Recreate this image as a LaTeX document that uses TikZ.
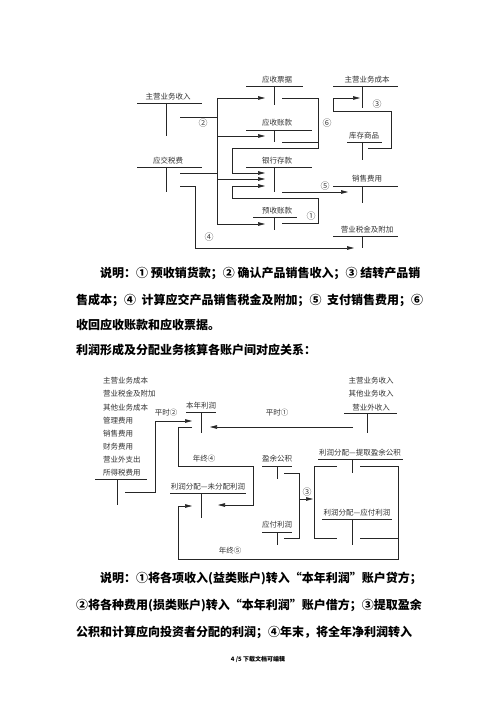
\documentclass[tikz,border=0pt]{standalone}
\usepackage{fontspec}
\newfontfamily\cjk{Noto Sans CJK SC}
\usetikzlibrary{arrows.meta}

\begin{document}
\begin{tikzpicture}[x=1pt, y=-1pt,
  acct/.style={font=\cjk\fontsize{7.5}{8}\selectfont, text=black!80, inner sep=0pt},
  num/.style={font=\cjk\fontsize{9}{9}\selectfont, text=black!75, inner sep=0pt},
  tline/.style={line width=0.6pt, black!85},
  arr/.style={-{Triangle[length=7pt,width=3.6pt]}, line width=0.6pt, black!85},
  note/.style={font=\cjk\bfseries\fontsize{12}{14}\selectfont, anchor=west, inner sep=0pt},
]
  \useasboundingbox (0,0) rectangle (500,708);

  % first picture: sales
  \node[acct] (zysr) at (168,97) {主营业务收入};
  \draw[tline] (137,103) -- (202,103) (166,103) -- (166,136);
  \node[acct] (yjsf) at (168,161) {应交税费};
  \draw[tline] (137,167) -- (202,167) (166,167) -- (166,192);
  \node[acct] (yspj) at (277,80) {应收票据};
  \draw[tline] (246,86) -- (303,86) (274,86) -- (274,105);
  \node[acct] (yszk) at (277,123) {应收账款};
  \draw[tline] (246,130) -- (312,130) (274,130) -- (274,142);
  \node[acct] (yhck) at (277,161) {银行存款};
  \draw[tline] (246,167) -- (312,167) (274,167) -- (274,192);
  \node[acct] (yszk2) at (277,211) {预收账款};
  \draw[tline] (253,217) -- (297,217) (274,217) -- (274,230);
  \node[acct] (zycb) at (367,80) {主营业务成本};
  \draw[tline] (333,86) -- (398,86) (362,86) -- (362,108);
  \node[acct] (kcsp) at (364,136) {库存商品};
  \draw[tline] (347,142) -- (382,142) (362,142) -- (362,160);
  \node[acct] (xsfy) at (367,179) {销售费用};
  \draw[tline] (333,186) -- (398,186) (362,186) -- (362,203);
  \node[acct] (yysj) at (367,230) {营业税金及附加};
  \draw[tline] (333,236) -- (398,236) (362,236) -- (362,248);

  % (2)
  \draw[tline] (180,117) -- (217,117) (217,98) -- (217,224);
  \draw[tline] (180,173) -- (217,173);
  \draw[arr] (217,98) -- (265,98);
  \draw[arr] (217,136) -- (265,136);
  \draw[arr] (217,179) -- (265,179);
  \draw[arr] (217,224) -- (265,224);
  \node[num] (n2) at (203,123) {②};
  % (6)
  \draw[tline] (282,142) -- (318,142);
  \draw[arr] (282,98) -- (318,98) -- (318,148) -- (232,148) -- (232,173) -- (265,173);
  \node[num] (n6) at (327,123) {⑥};
  % (1)
  \draw[arr] (282,223) -- (318,223) -- (318,198) -- (232,198) -- (232,186) -- (265,186);
  \node[num] (n1) at (311,216) {①};
  % (5)
  \draw[arr] (282,192) -- (348,192);
  \node[num] (n5) at (325,186) {⑤};
  % (4)
  \draw[arr] (180,186) -- (195,186) -- (195,248) -- (354,248);
  \node[num] (n4) at (209,237) {④};
  % (3)
  \draw[arr] (368,148) -- (391,148) -- (391,111) -- (333,111) -- (333,98) -- (360,98);
  \node[num] (n3) at (377,104) {③};

  \node[note] (t1) at (100,273) {说明：① 预收销货款；② 确认产品销售收入；③ 结转产品销};
  \node[note] (t2) at (76,300) {售成本；④ \ 计算应交产品销售税金及附加；⑤ \ 支付销售费用；⑥};
  \node[note] (t3) at (76,325) {收回应收账款和应收票据。};
  \node[note] (t4) at (76,350) {利润形成及分配业务核算各账户间对应关系：};

  % second picture: profit
  \foreach \txt [count=\i] in {主营业务成本, 营业税金及附加, 其他业务成本, 管理费用,
      销售费用, 财务费用, 营业外支出, 所得税费用}
    \node[acct, anchor=west] (fy\i) at (103, 381+13.1*\i-13.1) {\txt};
  \draw[tline] (95,479) -- (147,479) (117,479) -- (117,505);
  \foreach \txt [count=\i] in {主营业务收入, 其他业务收入, 营业外收入}
    \node[acct] (sr\i) at (371, 381+13.1*\i-13.1) {\txt};
  \draw[tline] (344,413) -- (397,413) (367,413) -- (367,433);

  \node[acct] (bnlr) at (201,406) {本年利润};
  \draw[tline] (186,412) -- (216,412) (201,412) -- (201,433);
  \node[acct] (wfp) at (208,487) {利润分配—未分配利润};
  \draw[tline] (170,493) -- (246,493) (201,493) -- (201,518);
  \node[acct] (yygj) at (277,459) {盈余公积};
  \draw[tline] (262,466) -- (292,466) (277,466) -- (277,479);
  \node[acct] (yflr) at (277,525) {应付利润};
  \draw[tline] (262,532) -- (292,532) (277,532) -- (277,545);
  \node[acct] (tqgj) at (360,453) {利润分配—提取盈余公积};
  \draw[tline] (318,459) -- (403,459) (352,459) -- (352,473);
  \node[acct] (fplr) at (357,513) {利润分配—应付利润};
  \draw[tline] (322,519) -- (392,519) (352,519) -- (352,545);

  \draw[arr] (125,492) -- (155,492) -- (155,421) -- (192,421);
  \node[acct] (ps2) at (166,413) {平时②};
  \draw[arr] (353,427) -- (210,427);
  \node[acct] (ps1) at (277,413) {平时①};
  \draw[arr] (192,427) -- (178,427) -- (178,466) -- (253,466) -- (253,505) -- (218,505);
  \node[acct] (nz4) at (204,459) {年终④};
  \draw[tline] (360,538) -- (398,538);
  \draw[arr] (360,466) -- (398,466) -- (398,559) -- (178,559) -- (178,506) -- (192,506);
  \node[acct] (nz5) at (230,551) {年终⑤};
  \draw[tline] (284,473) -- (299,473) -- (299,538) -- (284,538);
  \draw[arr] (299,499) -- (313,499);
  \node[num] (m3) at (307,492) {③};
  \draw[tline] (337,466) -- (314,466) -- (314,538) -- (337,538);

  \node[note] (s1) at (100,578) {说明：①将各项收入(益类账户)转入“本年利润”账户贷方；};
  \node[note] (s2) at (76,605) {②将各种费用(损类账户)转入“本年利润”账户借方；③提取盈余};
  \node[note] (s3) at (76,632) {公积和计算应向投资者分配的利润；④年末，将全年净利润转入};
  \node[font=\cjk\bfseries\fontsize{6}{7}\selectfont, inner sep=0pt] (foot) at (258,659) {4 /5 下载文档可编辑};
\end{tikzpicture}
\end{document}
